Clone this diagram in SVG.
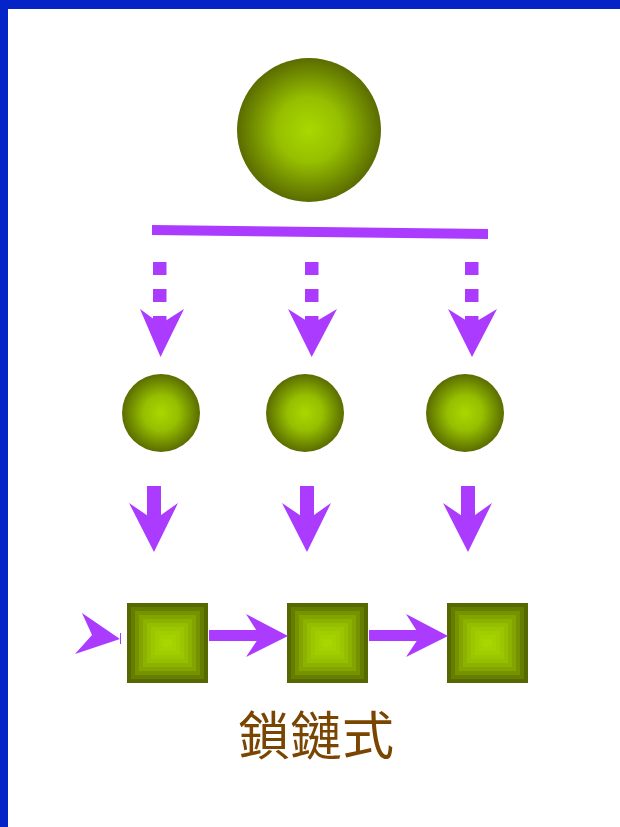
<svg xmlns="http://www.w3.org/2000/svg" width="620" height="827" viewBox="0 0 620 827">
<defs>
<radialGradient id="ball" cx="50%" cy="50%" r="50%">
<stop offset="0" stop-color="#A8D800"/>
<stop offset="0.45" stop-color="#96BF00"/>
<stop offset="1" stop-color="#5A6C00"/>
</radialGradient>
<g id="box">
<rect x="0" y="0" width="81" height="80" fill="#566800"/>
<rect x="4" y="4" width="73" height="72" fill="#667E00"/>
<rect x="8" y="8" width="65" height="64" fill="#769200"/>
<rect x="12" y="12" width="57" height="56" fill="#82A400"/>
<rect x="16" y="16" width="49" height="48" fill="#8CB200"/>
<rect x="20" y="20" width="41" height="40" fill="#95BE00"/>
<rect x="24" y="24" width="33" height="32" fill="#9BC700"/>
<rect x="28" y="28" width="25" height="24" fill="#A0CD00"/>
<rect x="32" y="32" width="17" height="16" fill="#A4D200"/>
<rect x="36" y="36" width="9" height="8" fill="#A7D600"/>
</g>
</defs>
<style>
.arr{fill:#AA3BFF}
.lbl{font-family:"Noto Sans CJK TC","Noto Sans CJK SC",sans-serif;font-size:52px;font-weight:400;fill:#7A4500}
</style>
<rect x="0" y="0" width="620" height="827" fill="#FFFFFF"/>
<rect x="0" y="0" width="620" height="9" fill="#0524C8"/>
<rect x="0" y="0" width="8" height="827" fill="#0524C8"/>

<g id="root"><circle cx="309" cy="130" r="72" fill="url(#ball)"/></g>
<g id="child1"><circle cx="161" cy="413" r="39" fill="url(#ball)"/></g>
<g id="child2"><circle cx="305" cy="413" r="39" fill="url(#ball)"/></g>
<g id="child3"><circle cx="465" cy="413" r="39" fill="url(#ball)"/></g>
<g id="box1"><use href="#box" x="127" y="603"/></g>
<g id="box2"><use href="#box" x="287" y="603"/></g>
<g id="box3"><use href="#box" x="447" y="603"/></g>

<g id="connectors" class="arr">
<polygon points="152,225 488,229 488,239 152,235"/>
<rect x="153" y="262" width="13.5" height="13"/>
<rect x="153" y="289" width="13.5" height="13"/>
<rect x="153" y="316" width="13.5" height="12"/>
<polygon points="140,309 160.5,324 184,309 160.5,357"/>
<rect x="305" y="262" width="13.5" height="13"/>
<rect x="305" y="289" width="13.5" height="13"/>
<rect x="305" y="316" width="13.5" height="12"/>
<polygon points="288,309 311.7,324 337,309 311.7,357"/>
<rect x="465" y="262" width="13.5" height="13"/>
<rect x="465" y="289" width="13.5" height="13"/>
<rect x="465" y="316" width="13.5" height="12"/>
<polygon points="448,309 472,324 497,309 472,357"/>
<rect x="147" y="486" width="14" height="36"/>
<polygon points="129,503 154,520 178,503 154,552"/>
<rect x="300" y="486" width="14" height="36"/>
<polygon points="282,503 307,520 331,503 307,552"/>
<rect x="461" y="486" width="14" height="36"/>
<polygon points="443,503 468,520 492,503 468,552"/>
<polygon points="82,613 120,639 75,654 92,635"/>
<rect x="120" y="633" width="1" height="11"/>
<rect x="209" y="630" width="52" height="11"/>
<polygon points="246,614 288,636 246,657 260,636"/>
<rect x="369" y="630" width="52" height="11"/>
<polygon points="406,614 448,636 406,657 420,636"/>
</g>

<g id="label"><text class="lbl" x="316" y="755" text-anchor="middle">鎖鏈式</text></g>
</svg>
